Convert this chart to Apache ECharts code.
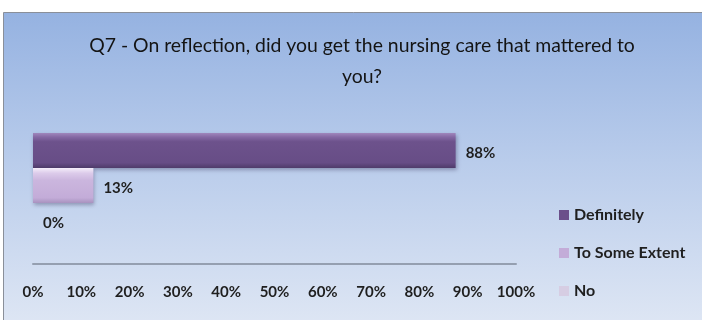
<!DOCTYPE html>
<html>
<head>
<meta charset="utf-8">
<script src="https://cdn.jsdelivr.net/npm/echarts@6/dist/echarts.min.js"></script>
<style>
html,body{margin:0;padding:0;background:#fff;}
#chart{width:702px;height:320px;}
</style>
</head>
<body>
<div id="chart"></div>
<script>
var titleText = 'Q7 - On reflection, did you get the nursing care that mattered to\nyou?';
var seriesNames = ['Definitely', 'To Some Extent', 'No'];
var seriesValues = [87.5, 12.5, 0];
var categories = [''];
var tickMin = 0, tickMax = 100, tickStep = 10;

var FONT = 'Lato';
var fills = [
  {type:'linear',x:0,y:0,x2:0,y2:1,colorStops:[
    {offset:0,color:'#a088bd'},{offset:0.12,color:'#8468a3'},{offset:0.25,color:'#6d528c'},
    {offset:0.85,color:'#674d86'},{offset:1,color:'#4f3b6a'}]},
  {type:'linear',x:0,y:0,x2:0,y2:1,colorStops:[
    {offset:0,color:'#f5eefa'},{offset:0.15,color:'#dccbea'},{offset:0.35,color:'#cbb6de'},
    {offset:0.85,color:'#c3acd8'},{offset:1,color:'#a892bf'}]},
  {type:'linear',x:0,y:0,x2:0,y2:1,colorStops:[
    {offset:0,color:'#ece6f2'},{offset:1,color:'#cfc5dd'}]}
];
var legendColors = ['#6b4f8a', '#c3acd8', '#d6cde3'];

var chart = echarts.init(document.getElementById('chart'), null, {renderer:'canvas'});
var series = seriesNames.map(function(name, i){
  return {
    name: name,
    type: 'bar',
    data: [seriesValues[i]],
    barGap: '0%',
    barCategoryGap: '33%',
    itemStyle: {color: fills[i], shadowColor:'rgba(40,30,70,0.35)', shadowBlur:4, shadowOffsetY:2, shadowOffsetX:1},
    label: {
      show: true, position: 'right', distance: 10, offset: [0, 3],
      formatter: function(p){ return Math.round(p.value) + '%'; },
      fontFamily: FONT, fontSize: 15, fontWeight: 'bold', color: '#1f1f1f'
    }
  };
});

chart.setOption({
  animation: false,
  graphic: [{
    type: 'rect', z: -100, silent: true,
    shape: {x: 3.5, y: 12.5, width: 720, height: 330},
    style: {
      fill: {type:'linear',x:0,y:0,x2:0,y2:1,colorStops:[
        {offset:0,color:'#95b2e1'},{offset:0.45,color:'#b9cceb'},{offset:1,color:'#e2e9f5'}]},
      stroke: '#8a8f99', lineWidth: 1
    }
  }],
  title: {
    text: titleText,
    left: 357, top: 25, textAlign: 'center',
    textStyle: {fontFamily: FONT, fontSize: 19.4, fontWeight: 'normal', color: '#141414', lineHeight: 31}
  },
  legend: {
    orient: 'vertical', left: 559, top: 206, padding: 0,
    itemWidth: 10, itemHeight: 10, itemGap: 20,
    icon: 'rect',
    data: seriesNames.map(function(n, i){ return {name: n, itemStyle: {color: legendColors[i]}}; }),
    textStyle: {fontFamily: FONT, fontSize: 16, fontWeight: 'bold', color: '#1f1f1f', lineHeight: 18}
  },
  grid: {left: 33, right: 186, top: 107, bottom: 56, containLabel: false},
  xAxis: {
    type: 'value', min: tickMin, max: tickMax, interval: tickStep,
    axisLine: {show: true, lineStyle: {color: '#959fb0', width: 2}},
    axisTick: {show: false},
    splitLine: {show: false},
    axisLabel: {formatter: '{value}%', margin: 21, fontFamily: FONT, fontSize: 15, fontWeight: 'bold', color: '#1f1f1f'}
  },
  yAxis: {
    type: 'category', data: categories,
    axisLine: {show: false}, axisTick: {show: false}, axisLabel: {show: false}, splitLine: {show: false}
  },
  series: series
});
</script>
</body>
</html>
